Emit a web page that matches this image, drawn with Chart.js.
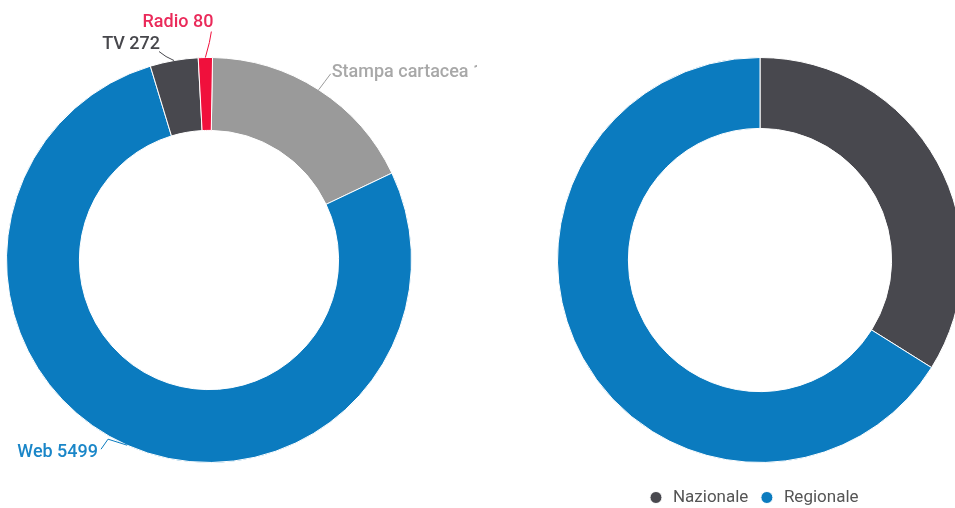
<!DOCTYPE html>
<html>
<head>
<meta charset="utf-8">
<script src="https://cdn.jsdelivr.net/npm/chart.js@4/dist/chart.umd.min.js"></script>
<style>
  html, body { margin: 0; padding: 0; background: #fff; overflow: hidden; }
  body { width: 955px; height: 508px; position: relative; }
  .box { position: absolute; top: 0; }
  #left { left: 0; width: 477px; height: 508px; }
  #right { left: 522px; width: 476px; height: 516px; }
</style>
</head>
<body>
<div class="box" id="left"><canvas id="mediaChart"></canvas></div>
<div class="box" id="right"><canvas id="scopeChart"></canvas></div>
<script>
/* Articoli per tipo di testata */
const mediaLabels = ['Stampa cartacea', 'Web', 'TV', 'Radio'];
const mediaValues = [1255, 5499, 272, 80];
const mediaColors = ['#9a9a9a', '#0b7bbf', '#48484e', '#f0103c'];
const mediaTextColors = ['#a8a8a8', '#1a86c8', '#47474c', '#ea2a5a'];

/* Articoli per diffusione */
const scopeLabels = ['Nazionale', 'Regionale'];
const scopeValues = [2410, 4696];
const scopeColors = ['#48484e', '#0b7bbf'];

const FONT = "Roboto, 'Noto Sans', sans-serif";

// leader line for each label: points relative to the arc's outer midpoint,
// then text offset from the last point
const calloutStyle = {
  'Stampa cartacea': { pts: [[6, -8], [12, -16]], text: [1, -1], align: 'left' },
  'Web':             { pts: [[-19, -6], [-26, 4]], text: [-3, 3], align: 'right' },
  'TV':              { pts: [[-8, -4], [-15, -9]], text: [1, -7], align: 'right' },
  'Radio':           { pts: [[4, -15], [6, -26]], text: [2, -9], align: 'right' },
};

const callouts = {
  id: 'callouts',
  afterDatasetsDraw(chart) {
    const { ctx } = chart;
    const meta = chart.getDatasetMeta(0);
    meta.data.forEach((arc, i) => {
      const label = chart.data.labels[i];
      const st = calloutStyle[label];
      if (!st) return;
      const { x, y, startAngle, endAngle, outerRadius } = arc.getProps(['x', 'y', 'startAngle', 'endAngle', 'outerRadius'], true);
      const mid = (startAngle + endAngle) / 2;
      const ax = x + Math.cos(mid) * outerRadius;
      const ay = y + Math.sin(mid) * outerRadius;
      ctx.save();
      ctx.strokeStyle = mediaColors[i];
      ctx.lineWidth = 1;
      ctx.lineJoin = 'round';
      ctx.beginPath();
      ctx.moveTo(ax, ay);
      let px = ax, py = ay;
      st.pts.forEach(p => { px = ax + p[0]; py = ay + p[1]; ctx.lineTo(px, py); });
      ctx.stroke();
      ctx.fillStyle = mediaTextColors[i];
      ctx.font = `500 18px ${FONT}`;
      ctx.textAlign = st.align;
      ctx.textBaseline = 'middle';
      ctx.fillText(`${label} ${chart.data.datasets[0].data[i]}`, px + st.text[0], py + st.text[1]);
      ctx.restore();
    });
  },
};

// nudge the legend row a little left of the ring's centre
const legendShift = {
  id: 'legendShift',
  afterLayout(chart) {
    const lg = chart.legend;
    if (!lg) return;
    lg.left -= 7;
    lg.right -= 7;
  },
};

new Chart(document.getElementById('mediaChart'), {
  type: 'doughnut',
  data: {
    labels: mediaLabels,
    datasets: [{
      data: mediaValues,
      backgroundColor: mediaColors,
      borderColor: '#ffffff',
      borderWidth: 1,
    }],
  },
  options: {
    responsive: true,
    maintainAspectRatio: false,
    animation: false,
    cutout: '64%',
    rotation: 1,
    layout: { padding: { left: 6, right: 65, top: 57, bottom: 45 } },
    plugins: {
      legend: { display: false },
      tooltip: { enabled: false },
    },
  },
  plugins: [callouts],
});

new Chart(document.getElementById('scopeChart'), {
  type: 'doughnut',
  data: {
    labels: scopeLabels,
    datasets: [{
      data: scopeValues,
      backgroundColor: scopeColors,
      borderColor: '#ffffff',
      borderWidth: 1,
    }],
  },
  options: {
    responsive: true,
    maintainAspectRatio: false,
    animation: false,
    cutout: '65%',
    layout: { padding: { left: 35, right: 35, top: 41, bottom: 0 } },
    plugins: {
      legend: {
        position: 'bottom',
        labels: {
          usePointStyle: true,
          pointStyle: 'circle',
          boxWidth: 17,
          boxHeight: 8.5,
          padding: 10,
          color: '#555555',
          font: { family: FONT, size: 17 },
        },
      },
      tooltip: { enabled: false },
    },
  },
  plugins: [legendShift],
});
</script>
</body>
</html>
